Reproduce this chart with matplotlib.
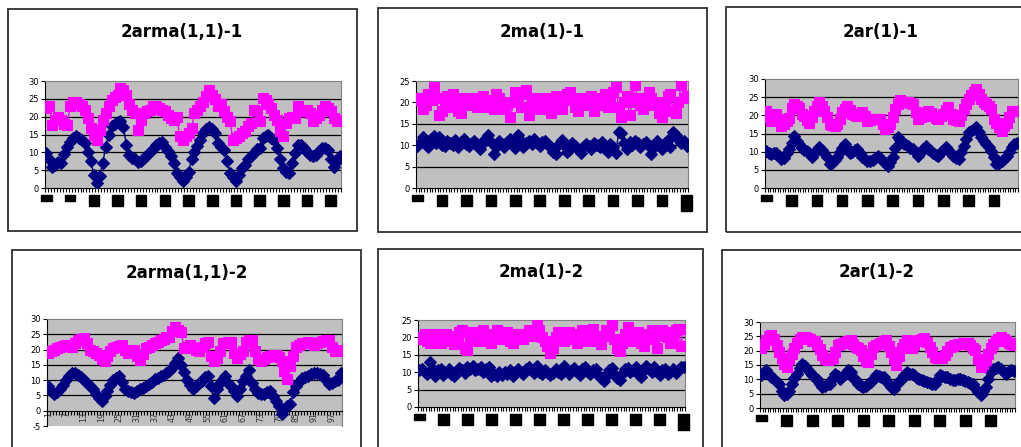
import numpy as np
import matplotlib
matplotlib.use('Agg')
import matplotlib.pyplot as plt
from matplotlib.patches import Rectangle

# series values (100 points each)
arma1_b = [9.8, 8, 5.8, 6.5, 7.2, 7, 9.5, 11.5, 13, 14,
           14.5, 14, 13.5, 12.5, 10, 7.5, 3.7, 1.4, 3.5, 7,
           11.5, 15, 17.5, 18, 18.5, 18.7, 17, 12, 9.3, 8.5,
           8, 7.2, 7.5, 8.5, 9.3, 10, 11, 12, 12.5, 12.8,
           11.5, 10.5, 9, 7, 4.2, 3, 1.9, 3, 4.5, 8,
           10, 11.7, 13.5, 15.4, 16.5, 17, 16.5, 15.4, 12.5, 11.5,
           10.7, 7.5, 4.2, 3, 1.9, 3.7, 5.5, 6.5, 8, 9,
           9.8, 10.8, 11.2, 14, 14.5, 15, 14, 13.5, 11.2, 8,
           5.6, 4.5, 4.2, 7, 9.8, 12, 12, 11.2, 10, 9.3,
           9, 9.2, 10.5, 11.2, 11.3, 10.7, 8, 6, 7.5, 9]
arma1_p = [22.4, 23, 17.7, 19, 20, 19, 18, 17.7, 23, 24,
           24.2, 23.6, 23, 22, 19.6, 16.8, 15, 13.5, 16.3, 19,
           21, 23, 24.7, 25.5, 26, 28, 27.5, 26, 23.6, 22,
           21, 16.3, 19, 21, 21.5, 22, 23, 23, 22.4, 22,
           21.5, 20.5, 19.5, 19, 20, 14.5, 13.5, 14.5, 15.4, 16.8,
           21, 22, 23, 24.2, 25.7, 27.5, 26, 25, 23, 23.6,
           21.5, 20, 18.7, 13.5, 14, 14.5, 15.5, 15.9, 17.3, 18.3,
           22, 21.5, 18.7, 25.2, 24.7, 23.5, 22.4, 20.5, 19, 15.9,
           14.5, 18.3, 19.6, 20, 19.5, 23, 22, 21.5, 22, 21,
           18.7, 19.5, 20.5, 22, 23, 22.5, 21.5, 19.5, 18.7, 19]

ma1_b = [9.8, 10.5, 12, 11, 9.5, 11.5, 12.2, 10.5, 11.8, 10,
         9.8, 11, 10.5, 10, 11.2, 9.5, 10.8, 11.5, 10.2, 9.8,
         10.6, 11, 10, 9.2, 10.5, 11.5, 12.3, 10.8, 8, 9.5,
         11, 10.2, 9.6, 10.8, 11.5, 10, 9.3, 12.3, 11, 9.5,
         10.4, 11, 10.2, 11.5, 10.5, 9.8, 10.8, 11, 10, 9.5,
         8.5, 8, 10.2, 11.2, 10, 8.5, 9, 10.5, 9.8, 9,
         8.2, 9.5, 10.3, 9.8, 9.2, 10.5, 10, 9.5, 10.8, 9,
         8.5, 10.2, 9.6, 8.2, 13, 12.8, 10.5, 9, 10.8, 10,
         11, 10.5, 9.5, 10.2, 10.8, 9.8, 8, 9.5, 11, 10.2,
         9.2, 10.5, 11.2, 9.5, 13.2, 12.5, 11.5, 10.5, 11, 9.8]
ma1_p = [21, 20.5, 18.5, 19.5, 22, 20.5, 23.5, 21, 17, 18,
         20.5, 21.5, 19, 22, 20, 18, 17.5, 21, 20.5, 19.5,
         21, 20, 19, 20.5, 21.5, 20, 19, 20.5, 18.5, 22,
         21, 20, 18.5, 19.5, 16.5, 20, 22.5, 21.5, 19, 22,
         23, 17, 19.5, 21, 20, 18.5, 19.5, 21, 20.5, 17.5,
         19, 21.5, 20, 18.5, 20.5, 22, 22.5, 21, 19, 18,
         20.5, 21, 19.5, 20, 21.5, 18, 19.5, 20.5, 21, 22,
         19, 20.5, 22.5, 23.5, 19, 16.5, 20, 21.5, 17, 20,
         24, 21, 19.5, 18.5, 21, 22.5, 21, 19.5, 20, 17.5,
         16.5, 19, 21.5, 22, 18, 17.5, 20, 24, 21, 21.5]

ar1_b = [10.3, 9.5, 9.3, 9.5, 9.7, 8.8, 8, 8.2, 9.5, 10.6,
         12.5, 14.4, 13, 12, 11, 10.5, 10.3, 9.5, 8.4, 9.5,
         10.5, 11.2, 10.5, 9.5, 8.5, 6.5, 7, 7.8, 8.4, 10,
         11, 12, 11, 9.7, 10, 10.5, 10.6, 9.5, 8.5, 7.9,
         7.5, 7.4, 7.8, 8.3, 8.8, 8.2, 7.5, 6.8, 6, 7.2,
         8.4, 11, 13.9, 13.2, 12.5, 12, 11.5, 11, 10.6, 9.8,
         8.8, 9.8, 10.8, 11.6, 10.8, 10.2, 9.7, 9.2, 8.8, 9.8,
         10.5, 11.2, 10.5, 9.7, 8.8, 8.2, 7.9, 10, 11.6, 13.5,
         15.3, 15.8, 16.2, 16.7, 15.5, 14, 13, 12, 11.2, 10.3,
         8.5, 6.5, 7, 7.5, 7.9, 8.8, 10, 11.2, 12, 12.5]
ar1_p = [21.3, 19.5, 18.5, 19.5, 20.4, 19, 17.1, 17.5, 18.5, 19.4,
         22, 23.1, 22.5, 22, 20.5, 19.9, 18.8, 18, 19.5, 21.3,
         22.5, 23.6, 22.5, 21.3, 19.5, 17.6, 17.3, 17.1, 17.5, 19,
         20.8, 21.8, 22.7, 21.5, 20.4, 20, 19.9, 20.3, 20.8, 19.7,
         18.5, 18.7, 19, 19, 19, 19, 17.5, 16.2, 16.8, 17.6,
         19.5, 21.8, 23, 24.1, 23.8, 23.6, 23.6, 23.3, 23.1, 21,
         19, 19.5, 19.9, 20.6, 21.3, 20.6, 19.9, 19.4, 19, 19.7,
         20.4, 21.5, 22.2, 20.5, 19, 18.7, 18.5, 20, 21.8, 23,
         24.5, 25.5, 26.5, 27.3, 26, 24.5, 23.8, 23.1, 22.5, 21.8,
         19, 18, 16.8, 15.7, 17, 18, 19.5, 21.3, 21.3, 21.3]

arma2_b = [8.1, 6.5, 5.4, 6.2, 7, 8.5, 10.2, 11.5, 12.4, 12.2,
           11.8, 11, 10.2, 9, 8, 7, 5.5, 4.3, 3.2, 4.8,
           6.5, 8.5, 10.2, 10.8, 11.3, 9.5, 7, 6.5, 6.2, 5.9,
           6.5, 7.2, 7.5, 8, 8.6, 9.3, 10.3, 10.8, 11.3, 11.8,
           12.3, 12.9, 14, 15.5, 17.2, 15, 12.5, 10.2, 8.5, 7,
           8, 9, 9.7, 11, 11.3, 8, 4.3, 7, 9.1, 10.5,
           11.3, 9, 8.1, 6.5, 4.8, 7, 9.7, 11.5, 13.4, 9.1,
           7, 5.9, 5.6, 5.4, 6, 6.5, 4.8, 3.2, 1.5, -1.2,
           0.5, 1.5, 2.2, 6, 8.1, 9.5, 10.8, 11, 11.3, 12,
           12.4, 12.2, 12, 11.8, 10, 8.6, 9, 9.7, 10.2, 12.4]
arma2_p = [18.8, 19.5, 19.9, 20.5, 21, 21.2, 21.5, 21.3, 21, 22,
           23.1, 23.5, 23.7, 22, 20, 19.4, 18.8, 18.3, 17, 16.1,
           18, 19.4, 20.5, 21, 21.3, 21.5, 20, 18.8, 19.3, 19.9,
           18, 16.7, 18.5, 20.4, 21, 21.5, 22, 22.5, 23.1, 23.5,
           24, 24.2, 26, 27.4, 26.5, 25.8, 20.4, 21, 21.5, 20.5,
           19.8, 19.4, 21, 22, 22.6, 18, 16.1, 17.2, 19.5, 22,
           22.3, 22.5, 22.6, 19, 17.2, 18.5, 19.4, 22.6, 23, 23.1,
           19.4, 17, 16.1, 17, 17.7, 18, 18.2, 18.3, 17.5, 16.1,
           13, 10.5, 14.5, 18, 21, 21.5, 22, 22.3, 22.6, 22,
           21.5, 22, 22.6, 22.8, 23, 23.1, 21, 19.4, 19.6, 19.9]

ma2_b = [10.5, 11, 10, 9.5, 12.8, 11, 9, 10.5, 11, 9.2,
         10, 10.8, 9.5, 9, 10.3, 11.2, 10.5, 9.8, 11.5, 10.8,
         11.8, 10.5, 11, 11.5, 10.2, 10.8, 11.5, 9, 9.5, 8.8,
         10, 9.2, 10.2, 9.5, 10.5, 9, 10, 10.8, 10.2, 9.5,
         10.8, 11.5, 10.5, 9.8, 11.8, 10.2, 9.5, 10.5, 10, 9.2,
         9.8, 11, 10.2, 9.5, 11.8, 10.8, 9.5, 10.5, 11.2, 10,
         9.3, 10.8, 11.5, 10, 9.5, 10.5, 11, 9.2, 8.3, 7.5,
         9, 10.5, 11.3, 9.5, 8.2, 7.8, 9.5, 10.8, 11.2, 10,
         10.5, 11.5, 9.5, 8.5, 10.5, 11.8, 11, 10.2, 11.5, 10,
         9.2, 10.5, 11, 9.5, 10.2, 11, 9.8, 10.5, 11.5, 11.5]
ma2_p = [19.5, 20, 21, 19, 18.5, 20.5, 21, 19.5, 18.5, 20,
         21, 20.5, 19, 18, 20, 21.5, 22, 17, 16.5, 19.5,
         21.5, 20.5, 19, 21, 22, 20.5, 19, 18.5, 21, 22,
         21.5, 19.5, 20.5, 21.5, 19, 18.5, 20, 21, 20, 19.5,
         21, 22, 20.5, 21, 24.5, 22, 20, 19, 17.5, 15.5,
         17, 20, 21.5, 20.5, 19, 20.5, 21.5, 20.5, 19.5, 18.5,
         21, 22, 20.5, 19, 21.5, 22.5, 20.5, 19, 18, 20.5,
         22, 21, 23.5, 19.5, 17, 16, 18.5, 21, 23, 21.5,
         19, 20.5, 21.5, 18.5, 17.5, 20.5, 21, 22, 19.5, 17,
         20.5, 22, 21.5, 20, 18.5, 20.5, 22, 22.5, 17.5, 22.5]

ar2_b = [11.4, 12.5, 13.2, 12, 10.8, 10, 9, 8.5, 6, 4.4,
         5, 6.1, 8.5, 10.5, 12, 14, 15.5, 14.5, 13.5, 12.6,
         11.5, 10.5, 10.2, 8.5, 7.3, 7.8, 8.2, 8.5, 10.5, 12,
         11, 10.2, 11, 12, 13.2, 12.5, 10.5, 9.6, 8.5, 7.8,
         7.3, 7.8, 8.5, 9.1, 10.2, 11.4, 11, 10.8, 10.8, 9.5,
         8.5, 7.5, 6.7, 8, 9.5, 10.2, 11.5, 12.6, 12, 11.8,
         11.4, 10.5, 10, 9.6, 9.3, 9.1, 8.8, 8.5, 8.5, 9.8,
         11.4, 11, 10.8, 10.8, 10.2, 9.6, 9.8, 10, 10.2, 9.6,
         9.3, 9.1, 8.8, 8.5, 7, 5.5, 4.4, 6, 7.3, 10,
         12.6, 13.5, 14, 14.4, 13.5, 12.6, 12, 12.8, 13.2, 13]
ar2_p = [20.8, 22.5, 23.8, 25, 25.5, 24, 22, 19.5, 17.3, 15.5,
         14.4, 17, 19, 21, 22.6, 24, 24.9, 24.8, 24.4, 24,
         23.5, 23.2, 22, 20.5, 18.5, 17, 16.7, 17, 17.3, 19.5,
         22, 22.3, 22.6, 23, 23.5, 23.8, 22.5, 21.4, 20.8, 20.2,
         18, 16.5, 16.1, 19, 21.4, 22, 22.3, 22.6, 23.2, 23.8,
         21.5, 19.6, 17, 14.9, 18, 20.8, 22.5, 23.8, 22, 20.8,
         22, 23.2, 23.8, 24.2, 24.4, 23, 21.4, 19.5, 17.9, 17.5,
         17.3, 17.3, 18.5, 20, 21.4, 21.7, 22, 22.2, 22.4, 22.6,
         22.6, 22.6, 22, 21, 20.2, 17, 14.4, 15.5, 16.7, 19,
         20.8, 22.5, 23.2, 24, 24.9, 24, 23.2, 22.8, 22.5, 22]

titles = ['2arma(1,1)-1', '2ma(1)-1', '2ar(1)-1', '2arma(1,1)-2', '2ma(1)-2', '2ar(1)-2']
labels_arma1 = list(range(1, 101, 8))
labels_ma = list(range(1, 101, 9))
labels_ar = list(range(1, 101, 10))
labels_arma2 = list(range(1, 101, 6))

W, H = 1021, 447
GRAY = '#C0C0C0'
PINK = '#FF00FF'
NAVY = '#000080'

fig = plt.figure(figsize=(W / 100, H / 100), dpi=100)
fig.patch.set_facecolor('white')


def px(l, t, r, b):
    return [l / W, 1 - b / H, (r - l) / W, (b - t) / H]


def panel(box, title, tx, ty, area, blue, pink, ymin, ymax, labs, blocks=True):
    fig.add_artist(Rectangle((box[0] / W, 1 - box[3] / H), (box[2] - box[0]) / W,
                             (box[3] - box[1]) / H, transform=fig.transFigure,
                             fill=False, edgecolor='#303030', lw=1.3))
    fig.text(tx / W, 1 - ty / H, title, ha='center', va='center',
             fontsize=12, fontweight='bold', family='DejaVu Sans')
    ax = fig.add_axes(px(*area))
    ax.set_facecolor(GRAY)
    if not blocks:
        # x axis crosses at 0, labels sit over the negative band
        ax.spines['bottom'].set_position(('data', 0))
    x = np.arange(1, len(blue) + 1)
    ax.plot(x, blue, color=NAVY, lw=1, marker='D', ms=6.3, mec=NAVY, mew=0.8, zorder=3)
    ax.plot(x, pink, color=PINK, lw=1, marker='s', ms=7.6, mec=PINK, mew=0.8, zorder=4)
    ax.set_xlim(0.5, len(blue) + 0.5)
    ax.set_ylim(ymin, ymax)
    yt = np.arange(ymin, ymax + 1, 5)
    ax.set_yticks(yt)
    ax.set_yticklabels([str(v) for v in yt], fontsize=6)
    for v in yt:
        if ymin < v < ymax and v != 0:
            ax.axhline(v, color='black', lw=0.9, zorder=1)
    ax.tick_params(axis='y', length=3, width=0.8, pad=1.5, direction='out')
    ax.set_xticks(np.arange(0.5, len(blue) + 1, 1))
    ax.set_xticklabels([])
    ax.tick_params(axis='x', which='major', length=3, width=0.8, direction='out')
    ax.set_xticks(labs, minor=True)
    ax.set_xticklabels([str(v) for v in labs], minor=True, rotation=90, fontsize=5.7)
    for s in ['top', 'right']:
        ax.spines[s].set_color('#808080')
    ax.spines['left'].set_color('black')
    ax.spines['bottom'].set_color('black')
    if blocks:
        ax.tick_params(axis='x', which='minor', length=0, pad=5.5)
        for t in ax.get_xticklabels(minor=True):
            t.set_bbox(dict(boxstyle='square,pad=0.1', facecolor='black', edgecolor='black'))
    else:
        ax.tick_params(axis='x', which='minor', length=0, pad=1, labelcolor='#333333')
    return ax


panel((8, 9, 357, 231), titles[0], 182, 32, (45, 81, 341, 188), arma1_b, arma1_p, 0, 30, labels_arma1)
panel((378, 8, 707, 232), titles[1], 542, 32, (416, 81, 688, 188), ma1_b, ma1_p, 0, 25, labels_ma)
panel((726, 7, 1040, 232), titles[2], 881, 32, (765, 79, 1018, 188), ar1_b, ar1_p, 0, 30, labels_ar)
panel((12, 250, 361, 470), titles[3], 187, 273, (47, 319, 342, 426), arma2_b, arma2_p, -5, 30, labels_arma2, blocks=False)
panel((378, 249, 703, 470), titles[4], 541, 272, (418, 320, 685, 407), ma2_b, ma2_p, 0, 25, labels_ma)
panel((722, 250, 1040, 470), titles[5], 877, 272, (760, 322, 1015, 408), ar2_b, ar2_p, 0, 30, labels_ar)

fig.savefig('out.png', dpi=100)
